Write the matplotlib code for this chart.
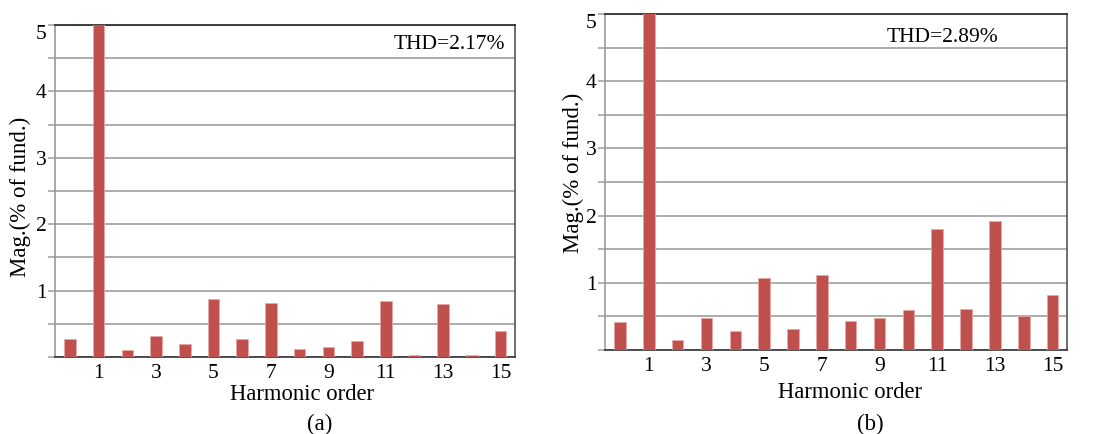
import matplotlib
matplotlib.use("Agg")
import matplotlib.pyplot as plt
import numpy as np

plt.rcParams['font.family'] = ['Liberation Serif', 'DejaVu Serif']

# Harmonic spectrum data (magnitude in % of fundamental)
orders = list(range(0, 16))
tick_orders = [1, 3, 5, 7, 9, 11, 13, 15]
mag_a = [0.27, 100.0, 0.10, 0.31, 0.195, 0.87, 0.27, 0.81,
         0.12, 0.155, 0.235, 0.85, 0.025, 0.795, 0.025, 0.39]
mag_b = [0.416, 100.0, 0.144, 0.47, 0.277, 1.07, 0.317, 1.11,
         0.436, 0.47, 0.59, 1.80, 0.604, 1.916, 0.51, 0.817]
thd_a = "THD=2.17%"
thd_b = "THD=2.89%"
panel_a = "(a)"
panel_b = "(b)"
xlabel = "Harmonic order"
ylabel = "Mag.(% of fund.)"

BAR = '#C0504D'
GRID = '#A6A6A6'

fig = plt.figure(figsize=(10.97, 4.34), dpi=100)
W, H = 1097, 434


def make_axes(left, top, right, bottom):
    return fig.add_axes([left / W, 1 - bottom / H, (right - left) / W, (bottom - top) / H])


def draw_panel(ax, mags, thd, thd_xy, panel, ylab_x, xlab_y, panel_y, tick_pad):
    ax.bar(orders, mags, width=0.4, color=BAR, edgecolor='#E8A9A7', linewidth=0.6, zorder=3)
    ax.set_xlim(-0.52, 15.5)
    ax.set_ylim(0, 5)
    ax.set_axisbelow(True)
    ax.set_yticks([0, 1, 2, 3, 4, 5])
    ax.set_yticks(np.arange(0.5, 5, 1.0), minor=True)
    ax.yaxis.grid(True, which='both', color=GRID, linewidth=1.3)
    ax.set_yticklabels(['', '1', '2', '3', '4', '5'])
    ax.tick_params(axis='y', which='both', length=5, width=1.2, color=GRID,
                   labelsize=15.5, pad=1)
    ax.set_xticks(tick_orders)
    ax.set_xticklabels([str(t) for t in tick_orders])
    ax.tick_params(axis='x', length=0, labelsize=15.5, pad=tick_pad)
    for lab in ax.get_yticklabels():
        if lab.get_text() == '5':
            lab.set_verticalalignment('top')
    ax.spines['top'].set_color('#222222')
    ax.spines['bottom'].set_color('#333333')
    ax.spines['left'].set_color('#999999')
    ax.spines['right'].set_color('#555555')
    for s in ax.spines.values():
        s.set_linewidth(1.2)
    ax.text(thd_xy[0], thd_xy[1], thd, transform=ax.transData, fontsize=15.5,
            ha='center', va='center')
    fig.text(ylab_x[0] / W, 1 - ylab_x[1] / H, ylabel, rotation=90, fontsize=16.5,
             ha='center', va='center')
    fig.text(xlab_y[0] / W, 1 - xlab_y[1] / H, xlabel, fontsize=16.3,
             ha='center', va='center')
    fig.text(panel_y[0] / W, 1 - panel_y[1] / H, panel, fontsize=16.5,
             ha='center', va='center')


ax_a = make_axes(55, 25, 515, 357)
draw_panel(ax_a, mag_a, thd_a, (13.2, 4.71), panel_a,
           (20, 197), (302, 395), (320, 424), 5)

ax_b = make_axes(605, 14, 1067, 350)
draw_panel(ax_b, mag_b, thd_b, (11.2, 4.65), panel_b,
           (573, 173), (850, 393), (870, 424), 5)

fig.savefig('out.png', dpi=100)
